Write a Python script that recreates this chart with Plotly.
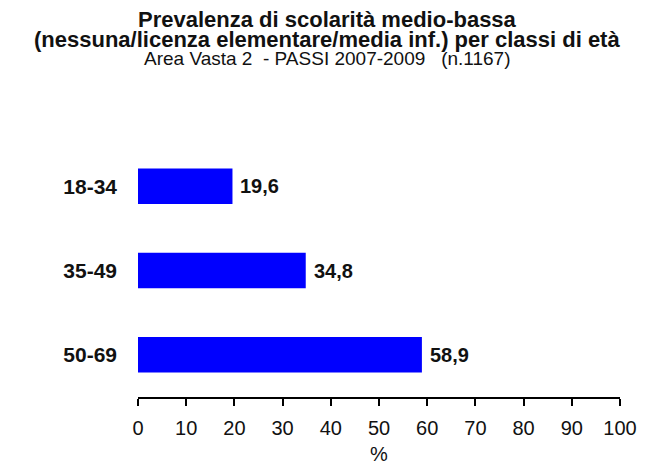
import plotly.graph_objects as go

categories = ["18-34", "35-49", "50-69"]
values = [19.6, 34.8, 58.9]
labels = ["19,6", "34,8", "58,9"]
x_ticks = [0, 10, 20, 30, 40, 50, 60, 70, 80, 90, 100]

title_line1 = "Prevalenza di scolarità medio-bassa"
title_line2 = "(nessuna/licenza elementare/media inf.) per classi di età"
subtitle = "Area Vasta 2  - PASSI 2007-2009   (n.1167)"

FONT = "Liberation Sans, Arial, sans-serif"
INK = "#111111"

# plot area in page pixels
L, R, T, B = 138, 29, 144, 68
W, H = 649, 465
PW, PH = W - L - R, H - T - B

fig = go.Figure(go.Bar(
    x=values, y=categories, orientation="h",
    marker=dict(color="#0000FF", line=dict(width=0)),
    width=0.42,
    hoverinfo="skip",
))

# data labels
for v, c, t in zip(values, categories, labels):
    fig.add_annotation(x=v, y=c, xref="x", yref="y", text=t, showarrow=False,
                       xanchor="left", yanchor="middle", xshift=6,
                       font=dict(family=FONT, size=20, color=INK, weight="bold"))

def px_x(p):
    return (p - L) / PW

def px_y(p):
    return (H - B - p) / PH

cx = px_x(327)
fig.add_annotation(x=cx, xref="paper", y=px_y(20), yref="paper", text=title_line1,
                   showarrow=False, xanchor="center", yanchor="middle",
                   font=dict(family=FONT, size=22, color=INK, weight="bold"))
fig.add_annotation(x=cx, xref="paper", y=px_y(40), yref="paper", text=title_line2,
                   showarrow=False, xanchor="center", yanchor="middle",
                   font=dict(family=FONT, size=22, color=INK, weight="bold"))
fig.add_annotation(x=cx, xref="paper", y=px_y(59), yref="paper", text=subtitle,
                   showarrow=False, xanchor="center", yanchor="middle",
                   font=dict(family=FONT, size=19, color=INK))

fig.update_layout(
    width=W, height=H,
    paper_bgcolor="white", plot_bgcolor="white",
    margin=dict(l=L, r=R, t=T, b=B, autoexpand=False),
    showlegend=False,
    font=dict(family=FONT, color=INK),
)

fig.update_xaxes(
    range=[0, 100], tickvals=x_ticks,
    showgrid=False, zeroline=False,
    showline=True, linecolor="black", linewidth=2,
    ticks="outside", ticklen=7, tickwidth=2, tickcolor="black",
    tickfont=dict(family=FONT, size=20, color=INK),
    ticklabelstandoff=5,
    title=dict(text="%", font=dict(family=FONT, size=20, color=INK), standoff=10),
    fixedrange=True,
)
fig.update_yaxes(
    categoryorder="array", categoryarray=categories, autorange="reversed",
    showgrid=False, zeroline=False, showline=False, ticks="",
    tickfont=dict(family=FONT, size=21, color=INK, weight="bold"),
    ticklabelstandoff=20,
    fixedrange=True,
)

fig.write_html("out.html", config={"displayModeBar": False},
               post_script="document.body.style.margin='0';")
